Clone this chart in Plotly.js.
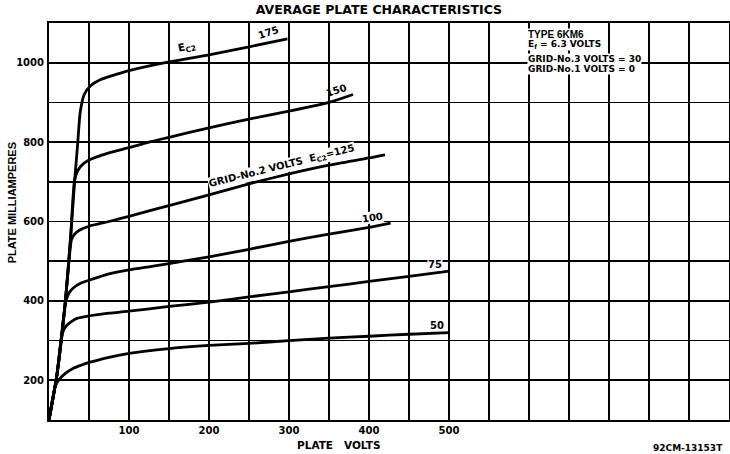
<!DOCTYPE html>
<html>
<head>
<meta charset="utf-8">
<script src="https://cdn.plot.ly/plotly-3.0.1.min.js"></script>
<style>html,body{margin:0;padding:0;background:#fff;}#chart{width:730px;height:454px;}</style>
</head>
<body>
<div id="chart"></div>
<script>
// Plate volts (x) and plate milliamperes (y) for each screen-grid voltage Ec2
const v175 = [0, 10, 20, 27, 32, 36, 39, 44, 52, 64, 80, 100, 150, 200, 250, 298];
const i175 = [100, 215, 390, 560, 700, 800, 875, 920, 942, 957, 968, 980, 1002, 1020, 1040, 1060];

const v150 = [0, 10, 20, 27, 32, 36, 40, 50, 75, 100, 125, 150, 200, 250, 300, 350, 380];
const i150 = [100, 215, 390, 560, 705, 728, 740, 755, 773, 786, 800, 812, 836, 858, 878, 900, 920];

const v125 = [0, 10, 20, 25, 28, 32, 38, 50, 75, 100, 125, 150, 200, 250, 300, 350, 400, 420];
const i125 = [100, 215, 390, 500, 553, 568, 578, 588, 600, 613, 627, 640, 667, 695, 720, 742, 760, 768];

const v100 = [0, 10, 18, 21, 25, 30, 40, 50, 75, 100, 125, 150, 200, 250, 300, 350, 400, 427];
const i100 = [100, 215, 355, 398, 420, 432, 445, 452, 468, 478, 486, 494, 511, 530, 550, 568, 585, 596];

const v75 = [0, 5, 10, 15, 18, 22, 28, 35, 50, 75, 100, 150, 200, 250, 300, 350, 400, 450, 500];
const i75 = [100, 155, 215, 300, 325, 338, 348, 356, 362, 369, 374, 386, 397, 410, 423, 436, 449, 462, 475];

const v50 = [0, 4, 8, 12, 20, 30, 40, 50, 75, 100, 150, 200, 250, 300, 350, 400, 450, 500];
const i50 = [100, 150, 185, 200, 217, 230, 238, 245, 258, 268, 280, 288, 293, 300, 306, 311, 316, 320];

const curveNames = ['175', '150', '125', '100', '75', '50'];

const xTickVals = [0, 50, 100, 150, 200, 250, 300, 350, 400, 450, 500, 550, 600, 650, 700, 750, 800, 850];
const xTickText = ['', '', '100', '', '200', '', '300', '', '400', '', '500', '', '', '', '', '', '', ''];
const yTickVals = [100, 200, 300, 400, 500, 600, 700, 800, 900, 1000, 1100];
const yTickText = ['', '200', '', '400', '', '600', '', '800', '', '1000', ''];

const FONT = 'DejaVu Sans, Liberation Sans, sans-serif';
const FONT2 = 'Liberation Sans, Arial, sans-serif';
const xs = [v175, v150, v125, v100, v75, v50];
const ys = [i175, i150, i125, i100, i75, i50];

const traces = xs.map((x, k) => ({
  x: x, y: ys[k], name: curveNames[k], type: 'scatter', mode: 'lines',
  line: {color: '#000', width: 2.8, shape: 'spline', smoothing: 0.6},
  hoverinfo: 'skip', showlegend: false
}));

function lab(text, x, y, angle, size, extra) {
  return Object.assign({
    text: text, x: x, y: y, xref: 'x', yref: 'y', showarrow: false,
    textangle: angle, font: {family: FONT, size: size, color: '#000', weight: 'bold'},
    bgcolor: '#fff', borderpad: 0
  }, extra || {});
}

const annotations = [
  lab('E<sub>C2</sub>', 172, 1040, -12, 10.5, {bgcolor: 'rgba(0,0,0,0)'}),
  lab('175', 274, 1076, -18, 10, {bgcolor: 'rgba(0,0,0,0)'}),
  lab('150', 359, 929, -18, 10, {bgcolor: 'rgba(0,0,0,0)'}),
  lab('GRID-No.2 VOLTS  E<sub>C2</sub>=125', 291, 739, -14, 10),
  lab('100', 404, 609, -8, 10),
  lab('75', 482, 492, 0, 10),
  lab('50', 485, 338, 0, 10, {bgcolor: 'rgba(0,0,0,0)'}),
  lab('TYPE 6KM6', 598, 1072, 0, 10, {xanchor: 'left', font: {family: FONT2, size: 10, color: '#000', weight: 'bold'}}),
  lab('E<sub>f</sub> = 6.3 VOLTS', 598, 1046, 0, 9, {xanchor: 'left'}),
  lab('GRID-No.3 VOLTS = 30', 597, 1010, 0, 9, {xanchor: 'left'}),
  lab('GRID-No.1 VOLTS = 0', 597, 985, 0, 9, {xanchor: 'left'}),
  {text: 'PLATE MILLIAMPERES', xref: 'paper', yref: 'y', x: -0.066, y: 646, showarrow: false,
   textangle: -90, font: {family: FONT2, size: 11, color: '#000', weight: 'bold'}},
  {text: 'PLATE   VOLTS', xref: 'x', yref: 'paper', x: 362, y: -0.063, showarrow: false,
   yanchor: 'middle', font: {family: FONT, size: 10.5, color: '#000', weight: 'bold'}},
  {text: '92CM-13153T', xref: 'paper', yref: 'paper', x: 0.994, y: -0.0705, showarrow: false,
   xanchor: 'right', yanchor: 'middle', font: {family: FONT, size: 9, color: '#000', weight: 'bold'}}
];

const axisCommon = {
  showgrid: true, gridcolor: '#000', gridwidth: 1.7,
  showline: true, mirror: true, linecolor: '#000', linewidth: 2,
  zeroline: false, ticks: '', tickmode: 'array',
  tickfont: {family: FONT, size: 10, color: '#000', weight: 'bold'}
};

const layout = {
  width: 730, height: 454,
  margin: {l: 49, r: 1, t: 23, b: 34},
  paper_bgcolor: '#fff', plot_bgcolor: '#fff',
  title: {text: 'AVERAGE PLATE CHARACTERISTICS', x: 0.519, xanchor: 'center', y: 0.978, yanchor: 'middle',
          font: {family: FONT, size: 12.5, color: '#000', weight: 'bold'}},
  xaxis: Object.assign({}, axisCommon, {range: [0, 850], tickvals: xTickVals, ticktext: xTickText}),
  yaxis: Object.assign({}, axisCommon, {range: [100, 1100], tickvals: yTickVals, ticktext: yTickText, ticklabelstandoff: 1}),
  annotations: annotations,
  showlegend: false
};

Plotly.newPlot('chart', traces, layout, {displayModeBar: false, staticPlot: true});
</script>
</body>
</html>
